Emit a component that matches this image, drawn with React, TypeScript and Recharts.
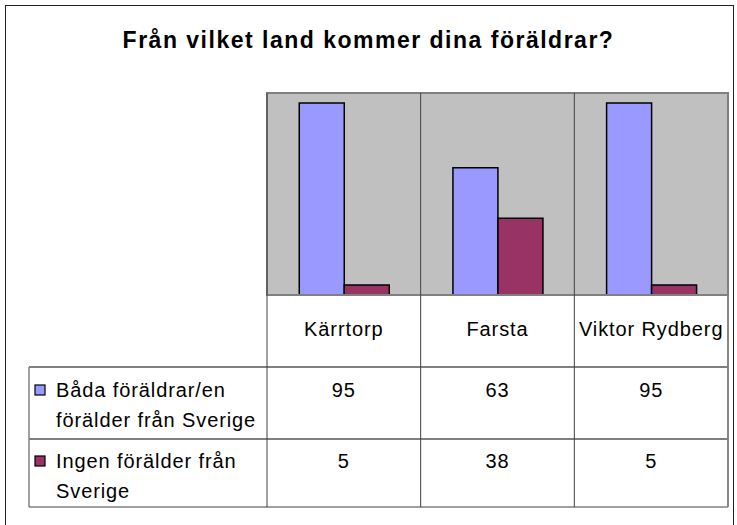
import React from "react"
import { Bar, BarChart, XAxis, YAxis, CartesianGrid } from "recharts"

const categories = ["Kärrtorp", "Farsta", "Viktor Rydberg"]
const bothParents = [95, 63, 95]
const noParent = [5, 38, 5]
const seriesLabels = [
    ["Båda föräldrar/en", "förälder från Sverige"],
    ["Ingen förälder från", "Sverige"],
]
const seriesColors = ["#9999FF", "#993366"]

const data = categories.map((name, i) => ({ name, both: bothParents[i], none: noParent[i] }))
const seriesValues = [bothParents, noParent]

// layout (px)
const W = 737
const H = 525
const PLOT_LEFT = 267
const PLOT_RIGHT = 728
const PLOT_TOP = 93
const PLOT_BOTTOM = 295
const BAND = (PLOT_RIGHT - PLOT_LEFT) / categories.length
const TABLE_LEFT = 29
const ROW1_TOP = 367
const ROW2_TOP = 439
const TABLE_BOTTOM = 507
const CAT_BASELINE = 336
const ROW_BASELINES = [[397, 427], [468, 498]]
const FONT = "'Liberation Sans', Arial, sans-serif"

function TableTick(props: any) {
    const { x, index, payload } = props
    const left = x - BAND / 2
    const right = x + BAND / 2
    const last = index === categories.length - 1
    const textStyle = { fontFamily: FONT, fontSize: 20, letterSpacing: 0.9, fill: "#000" }
    return (
        <g>
            {index === 0 && (
                <g>
                    {/* plot frame */}
                    <rect x={PLOT_LEFT} y={PLOT_TOP} width={PLOT_RIGHT - PLOT_LEFT} height={PLOT_BOTTOM - PLOT_TOP}
                        fill="none" stroke="#808080" strokeWidth={2} />
                    {/* table rows */}
                    <line x1={TABLE_LEFT} x2={PLOT_RIGHT} y1={ROW1_TOP} y2={ROW1_TOP} stroke="#000" />
                    <line x1={TABLE_LEFT} x2={PLOT_RIGHT} y1={ROW2_TOP} y2={ROW2_TOP} stroke="#000" />
                    <line x1={TABLE_LEFT} x2={PLOT_RIGHT} y1={TABLE_BOTTOM} y2={TABLE_BOTTOM} stroke="#808080" strokeWidth={1.5} />
                    <line x1={TABLE_LEFT} x2={TABLE_LEFT} y1={ROW1_TOP} y2={TABLE_BOTTOM} stroke="#808080" strokeWidth={1.5} />
                    <line x1={PLOT_RIGHT} x2={PLOT_RIGHT} y1={PLOT_BOTTOM} y2={TABLE_BOTTOM} stroke="#808080" strokeWidth={1.5} />
                    {seriesLabels.map((lines, s) => (
                        <g key={s}>
                            <rect x={35} y={ROW_BASELINES[s][0] - 12} width={10} height={10}
                                fill={seriesColors[s]} stroke="#000" strokeWidth={1.2} />
                            {lines.map((ln, k) => (
                                <text key={k} x={56} y={ROW_BASELINES[s][k]} style={textStyle}>{ln}</text>
                            ))}
                        </g>
                    ))}
                </g>
            )}
            <line x1={left} x2={left} y1={PLOT_TOP} y2={TABLE_BOTTOM} stroke="#404040" />
            {last && <line x1={right} x2={right} y1={PLOT_TOP} y2={TABLE_BOTTOM} stroke="#808080" strokeWidth={1.5} />}
            <text x={x} y={CAT_BASELINE} textAnchor="middle" style={textStyle}>{payload.value}</text>
            {seriesValues.map((vals, s) => (
                <text key={s} x={x} y={ROW_BASELINES[s][0]} textAnchor="middle" style={textStyle}>{vals[index]}</text>
            ))}
        </g>
    )
}

export default function App() {
    return (
        <div style={{ position: "absolute", left: 0, top: 0, width: W, height: H, background: "#fff", overflow: "hidden" }}>
            <div style={{
                position: "absolute", left: 5, top: 5, width: 729, height: 560,
                border: "1px solid #222", boxSizing: "border-box"
            }} />
            <div style={{
                position: "absolute", left: 0, top: 27, width: W, textAlign: "center",
                fontFamily: FONT, fontWeight: "bold", fontSize: 23, letterSpacing: 1.5, color: "#000"
            }}>
                Från vilket land kommer dina föräldrar?
            </div>
            <div style={{ position: "absolute", left: 0, top: 0 }}>
                <BarChart
                    width={W}
                    height={H}
                    data={data}
                    margin={{ top: PLOT_TOP, right: W - PLOT_RIGHT, left: PLOT_LEFT, bottom: H - PLOT_BOTTOM - 30 }}
                    barCategoryGap="21%"
                    barGap={0}
                >
                    <CartesianGrid fill="#C0C0C0" horizontal={false} vertical={false} />
                    <XAxis dataKey="name" axisLine={false} tickLine={false} height={30} interval={0}
                        tick={(p: any) => <TableTick {...p} />} />
                    <YAxis hide domain={[0, 100]} type="number" />
                    <Bar dataKey="both" fill={seriesColors[0]} stroke="#000" strokeWidth={1.5} isAnimationActive={false} />
                    <Bar dataKey="none" fill={seriesColors[1]} stroke="#000" strokeWidth={1.5} isAnimationActive={false} />
                </BarChart>
            </div>
        </div>
    )
}
